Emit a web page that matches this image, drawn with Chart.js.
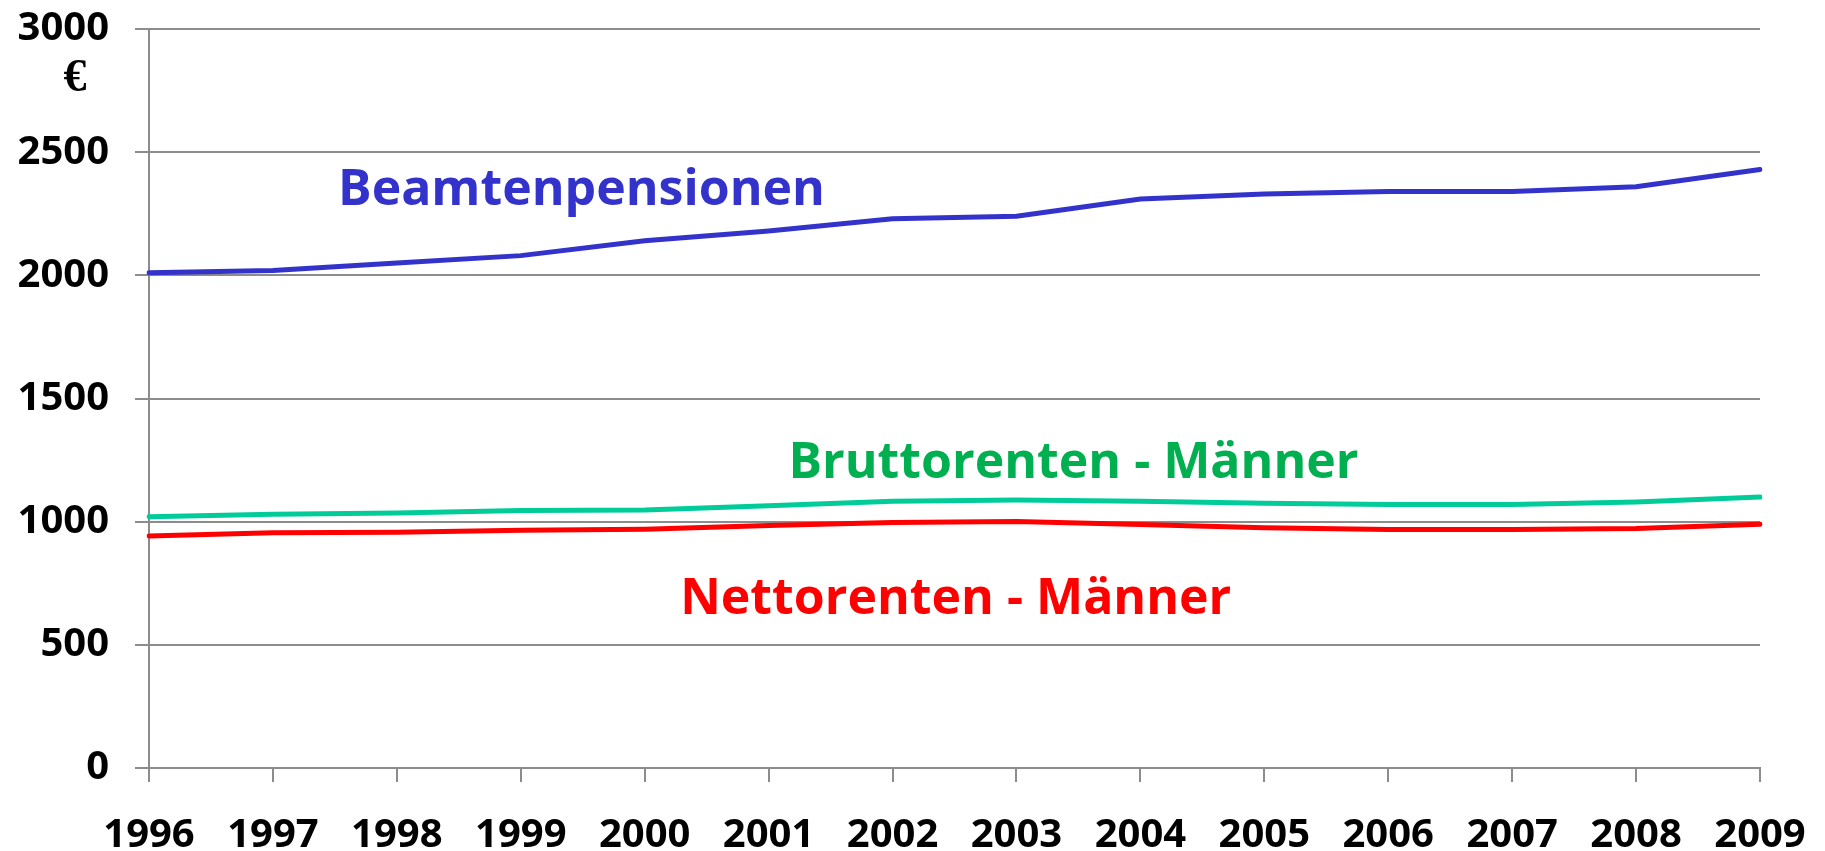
<!DOCTYPE html>
<html>
<head>
<meta charset="utf-8">
<script src="https://cdn.jsdelivr.net/npm/chart.js@4.4.1/dist/chart.umd.min.js"></script>
<style>
    html, body { margin: 0; padding: 0; background: #fff; }
    #wrap { width: 1825px; height: 851px; }
</style>
</head>
<body>
<div id="wrap"><canvas id="chart"></canvas></div>
<script>
// data
const years = ['1996', '1997', '1998', '1999', '2000', '2001', '2002', '2003', '2004', '2005', '2006', '2007', '2008', '2009'];
const beamtenpensionen = [2010, 2020, 2050, 2080, 2140, 2180, 2230, 2240, 2310, 2330, 2340, 2340, 2360, 2430];
const bruttorenten = [1020, 1030, 1035, 1045, 1047, 1065, 1083, 1088, 1083, 1075, 1070, 1070, 1080, 1100];
const nettorenten = [942, 955, 957, 965, 969, 984, 997, 1001, 989, 975, 968, 968, 972, 990];
const yTicks = [0, 500, 1000, 1500, 2000, 2500, 3000];

const FONT = "'Open Sans', 'DejaVu Sans', sans-serif";
const GRID = '#8c8c8c';

// series labels written inside the plot (x as category index, y as value)
const seriesLabels = [
    { text: 'Beamtenpensionen', color: '#3333cc', x: 3.49, y: 2343 },
    { text: 'Bruttorenten - Männer', color: '#00b050', x: 7.46, y: 1236 },
    { text: 'Nettorenten - Männer', color: '#ff0000', x: 6.51, y: 685 }
];

const labelPlugin = {
    id: 'seriesLabels',
    afterDatasetsDraw(chart) {
        const ctx = chart.ctx;
        const xs = chart.scales.x, ys = chart.scales.y;
        ctx.save();
        ctx.textAlign = 'center';
        ctx.textBaseline = 'middle';
        ctx.font = 'bold 50px ' + FONT;
        seriesLabels.forEach(l => {
            ctx.fillStyle = l.color;
            ctx.fillText(l.text, xs.getPixelForValue(l.x), ys.getPixelForValue(l.y));
        });
        // unit under the top tick label
        ctx.fillStyle = '#000';
        ctx.font = 'bold 46px "Liberation Serif", serif';
        ctx.fillText('€', 75, ys.getPixelForValue(3000) + 50);
        ctx.restore();
    }
};

new Chart(document.getElementById('chart'), {
    type: 'line',
    data: {
        labels: years,
        datasets: [
            { label: 'Beamtenpensionen', data: beamtenpensionen, borderColor: '#3333cc' },
            { label: 'Bruttorenten - Männer', data: bruttorenten, borderColor: '#00cc99' },
            { label: 'Nettorenten - Männer', data: nettorenten, borderColor: '#ff0000' }
        ].map(d => Object.assign(d, { borderWidth: 5, pointRadius: 0, tension: 0, fill: false, borderCapStyle: 'round' }))
    },
    options: {
        responsive: true,
        maintainAspectRatio: false,
        animation: false,
        layout: { padding: { left: 0, right: 65, top: 29, bottom: 0 } },
        plugins: { legend: { display: false }, tooltip: { enabled: false } },
        scales: {
            x: {
                grid: { drawOnChartArea: false, color: GRID, lineWidth: 2, tickLength: 14 },
                border: { color: GRID, width: 2 },
                ticks: { color: '#000', font: { family: FONT, size: 40, weight: 'bold' }, padding: 30, maxRotation: 0, autoSkip: false },
                afterFit: s => { s.height = 83; s.paddingLeft = 0; s.paddingRight = 0; }
            },
            y: {
                min: 0,
                max: 3000,
                afterBuildTicks: s => { s.ticks = yTicks.map(v => ({ value: v })); },
                grid: { color: GRID, lineWidth: 2, tickLength: 14 },
                border: { color: GRID, width: 2 },
                ticks: { color: '#000', font: { family: FONT, size: 40, weight: 'bold' }, padding: 26, callback: v => String(v) },
                afterFit: s => { s.width = 149; s.paddingTop = 0; s.paddingBottom = 0; }
            }
        }
    },
    plugins: [labelPlugin]
});
</script>
</body>
</html>
